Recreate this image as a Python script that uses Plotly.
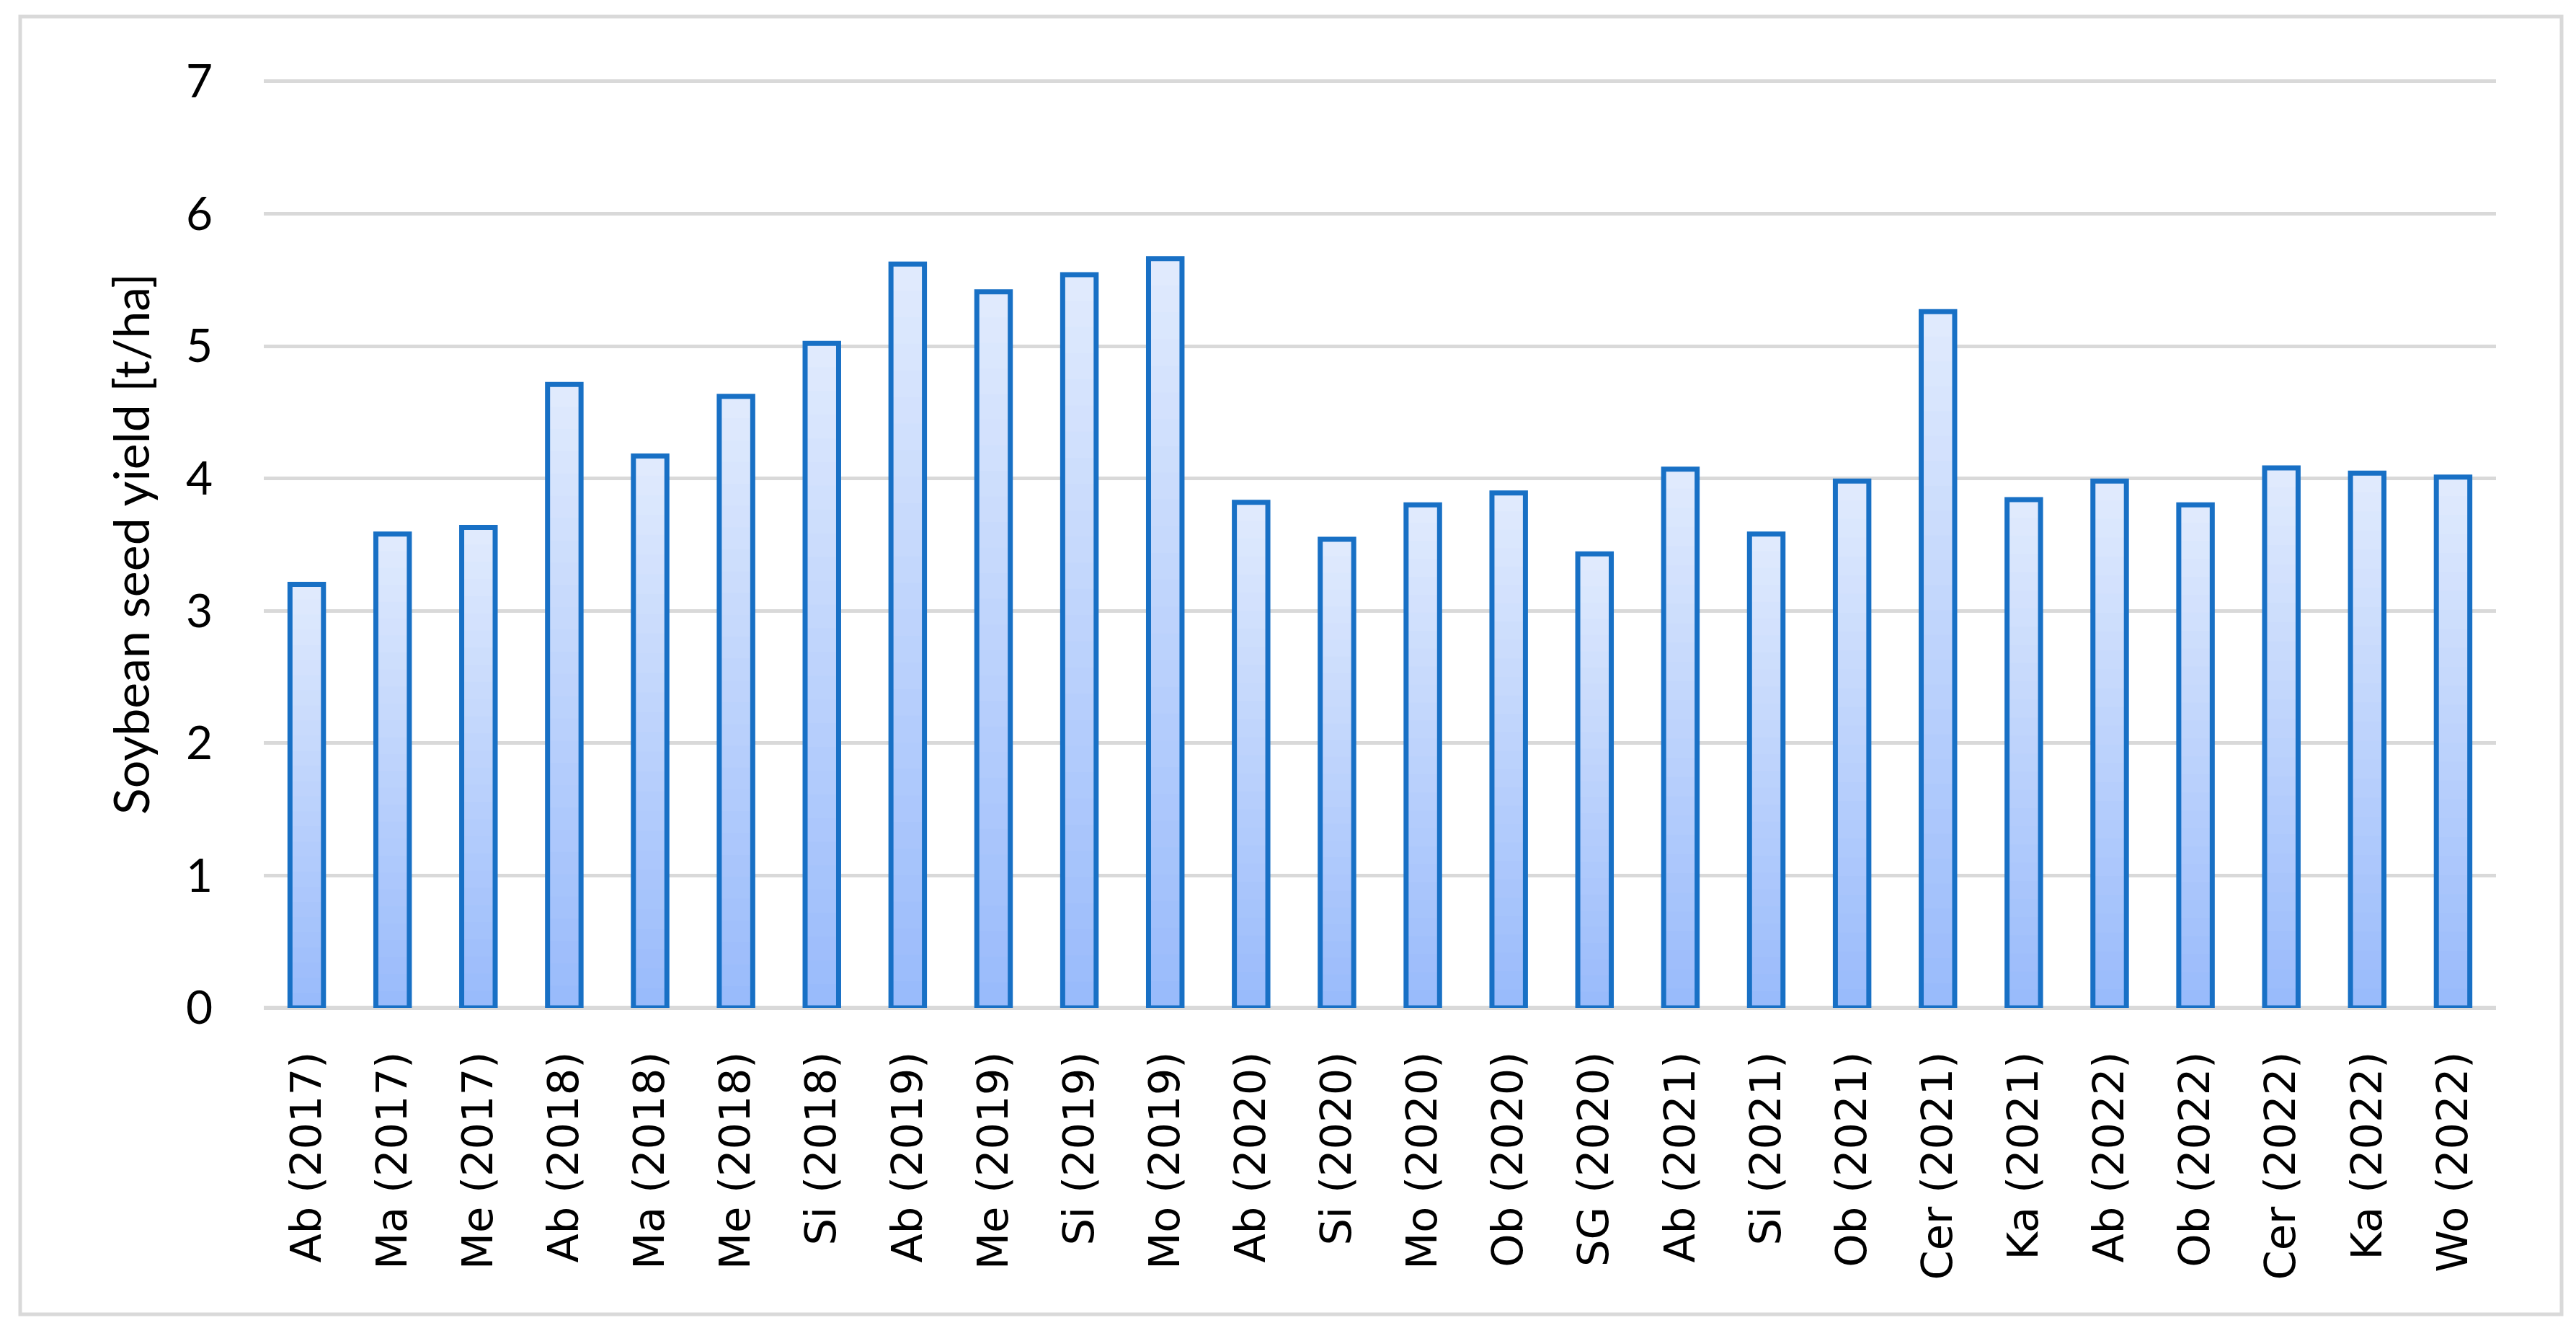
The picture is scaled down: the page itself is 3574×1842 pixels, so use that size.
import plotly.graph_objects as go

categories = ["Ab (2017)", "Ma (2017)", "Me (2017)", "Ab (2018)", "Ma (2018)", "Me (2018)",
              "Si (2018)", "Ab (2019)", "Me (2019)", "Si (2019)", "Mo (2019)", "Ab (2020)",
              "Si (2020)", "Mo (2020)", "Ob (2020)", "SG (2020)", "Ab (2021)", "Si (2021)",
              "Ob (2021)", "Cer (2021)", "Ka (2021)", "Ab (2022)", "Ob (2022)", "Cer (2022)",
              "Ka (2022)", "Wo (2022)"]
yield_t_ha = [3.20, 3.58, 3.63, 4.71, 4.17, 4.62, 5.02, 5.62, 5.41, 5.54, 5.66, 3.82,
              3.54, 3.80, 3.89, 3.43, 4.07, 3.58, 3.98, 5.26, 3.84, 3.98, 3.80, 4.08,
              4.04, 4.01]
y_ticks = [0, 1, 2, 3, 4, 5, 6, 7]

TOP = (225, 235, 253)
BOTTOM = (152, 186, 251)
N = 28

fig = go.Figure()
# vertical gradient fill: stacked overlay layers, each a fraction of the bar's own height
for k in range(N):
    frac = (N - k) / N
    f = (N - k - 0.5) / N  # position of visible band from bottom
    c = tuple(round(BOTTOM[i] + f * (TOP[i] - BOTTOM[i])) for i in range(3))
    fig.add_trace(go.Bar(
        x=categories, y=[v * frac for v in yield_t_ha],
        marker=dict(color="rgb(%d,%d,%d)" % c, line=dict(width=0)),
        hoverinfo="skip", showlegend=False))
# outline
fig.add_trace(go.Bar(
    x=categories, y=yield_t_ha,
    marker=dict(color="rgba(0,0,0,0)", line=dict(color="#1870c5", width=7)),
    showlegend=False, name="Soybean seed yield"))

W, H = 3574, 1842
L, R, T, B = 358, 119, 103, 452
pw, ph = W - L - R, H - T - B

fig.update_layout(
    width=W, height=H,
    barmode="overlay", bargap=0.61,
    paper_bgcolor="white", plot_bgcolor="white",
    margin=dict(l=L, r=R, t=T, b=B, autoexpand=False),
    font=dict(family="Lato", color="black"),
    shapes=[dict(type="rect", xref="paper", yref="paper",
                 x0=(20 - L) / pw, x1=(3546 - L) / pw,
                 y0=(H - B - 1815) / ph, y1=(H - B - 15) / ph,
                 line=dict(color="#d9d9d9", width=5), fillcolor="rgba(0,0,0,0)",
                 layer="below")],
)
fig.update_xaxes(
    tickangle=-90, tickfont=dict(family="DejaVu Sans", size=59, color="black"),
    showgrid=False, showline=False, ticks="", ticklabelstandoff=48, automargin=False)
fig.update_yaxes(
    range=[0, 7.01], tickvals=y_ticks, ticktext=[str(t) for t in y_ticks],
    tickfont=dict(family="Lato", size=64, color="black"),
    showgrid=True, gridcolor="#d9d9d9", gridwidth=5,
    zeroline=True, zerolinecolor="#d9d9d9", zerolinewidth=6,
    showline=False, ticks="", ticklabelstandoff=70, automargin=False,
    title=dict(text="Soybean seed yield [t/ha]", font=dict(family="Lato", size=68, color="black"),
               standoff=28))

fig.write_html("out.html")
